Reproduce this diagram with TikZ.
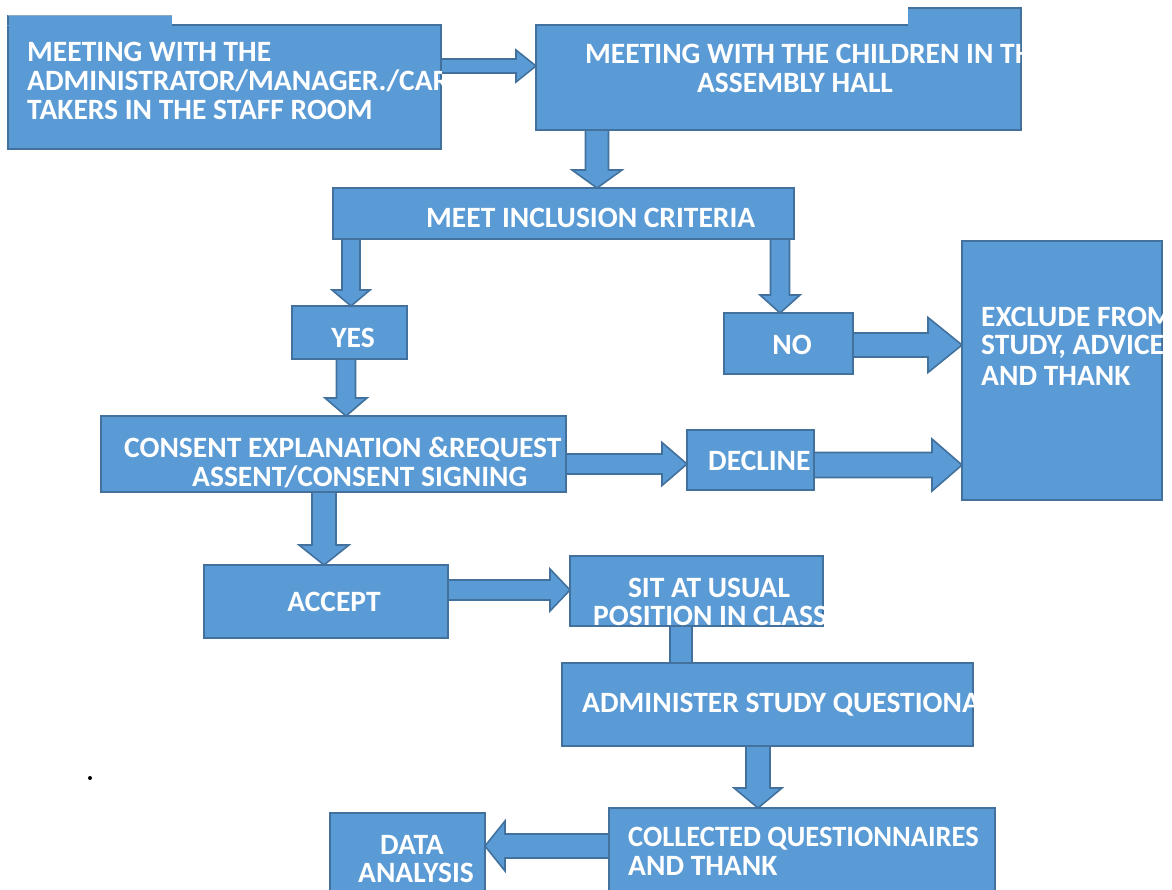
\documentclass[tikz,border=0pt]{standalone}
\usepackage{fontspec}
\setmainfont{Carlito}
\usetikzlibrary{calc}
\definecolor{blu}{HTML}{5B9BD5}
\definecolor{bord}{HTML}{41719C}
\newcommand\barrow[5]{%
 \draw[barr] let \p1=#1, \p2=#2, \n1={atan2(\y2-\y1,\x2-\x1)}, \n2={veclen(\x2-\x1,\y2-\y1)-#5}, \n3={#4-#3} in
 ($(\p1)+(\n1+90:#3)$) -- ++(\n1:\n2) -- ++(\n1+90:\n3) -- (\p2) -- ($(\p1)+(\n1:\n2)+(\n1-90:#4)$) -- ++(\n1+90:\n3) -- ++(\n1+180:\n2) -- cycle;}
\tikzset{
 box/.style={draw=bord, fill=blu, line width=1.6pt, rectangle, inner sep=0pt, outer sep=0pt, anchor=north west},
 barr/.style={draw=bord, fill=blu, line width=1.6pt, line join=miter},
 txt/.style={font=\fontsize{29.5}{29}\selectfont\bfseries, text=white, inner sep=0pt, anchor=base west},
 cent/.style={txt, anchor=base},
}
\begin{document}
\begin{tikzpicture}[x=1pt,y=1pt]
\useasboundingbox (0,0) rectangle (1172,-890);
\clip (0,0) rectangle (1172,-890);
% boxes
\node[box, minimum width=433, minimum height=124] (A) at (8,-25) {};
\fill[blu] (7.2,-15) rectangle (172,-25.8);
\draw[bord, line width=1.6pt] (8,-25) -- (8,-15);
\draw[bord!60, line width=0.6pt] (8,-15) -- (172,-15);
\node[box, minimum width=485, minimum height=105] (B) at (536,-25) {};
\fill[blu] (908,-8) rectangle (1020.2,-25.8);
\draw[bord, line width=1.6pt] (908,-8) -- (1021,-8) -- (1021,-25.8);
\node[box, minimum width=461, minimum height=51] (C) at (333,-188) {};
\node[box, minimum width=115, minimum height=53] (Y) at (292,-306) {};
\node[box, minimum width=129, minimum height=61] (N) at (724,-313) {};
\node[box, minimum width=200, minimum height=259] (E) at (962,-241) {};
\node[box, minimum width=465, minimum height=76] (K) at (101,-416) {};
\node[box, minimum width=127, minimum height=60] (D) at (687,-430) {};
\node[box, minimum width=244, minimum height=73] (AC) at (204,-565) {};
\node[box, minimum width=253, minimum height=70] (S) at (570,-556) {};
\node[box, minimum width=411, minimum height=83] (M) at (562,-663) {};
\node[box, minimum width=386, minimum height=90] (Q) at (609,-808) {};
\node[box, minimum width=155, minimum height=85] (DA) at (330,-813) {};
% connectors
\barrow{(A.east |- 0,-66)}{(B.west |- 0,-66)}{7}{16}{20}
\barrow{(B.south -| 597,0)}{(C.north -| 597,0)}{11.5}{25}{18}
\barrow{(C.south -| 351,0)}{(Y.north -| 351,0)}{9}{19}{16}
\barrow{(C.south -| 780,0)}{(N.north -| 780,0)}{9.5}{20}{18}
\barrow{(N.east |- 0,-345)}{(E.west |- 0,-345)}{12}{27.5}{34}
\barrow{(Y.south -| 346,0)}{(K.north -| 346,0)}{9.5}{21}{18}
\barrow{(K.east |- 0,-464)}{(D.west |- 0,-464)}{10}{21.5}{25}
\barrow{(D.east |- 0,-465)}{(E.west |- 0,-465)}{12.5}{26}{30}
\barrow{(K.south -| 324,0)}{(AC.north -| 324,0)}{12}{25}{20}
\barrow{(AC.east |- 0,-590)}{(S.west |- 0,-590)}{10}{21}{20}
\draw[barr] (S.south -| 670,0) rectangle (M.north -| 692,0);
\barrow{(M.south -| 758,0)}{(Q.north -| 758,0)}{12}{24}{20}
\barrow{(Q.west |- 0,-846)}{(DA.east |- 0,-846)}{12}{25}{20}
% texts
\begin{scope}
\clip (A.south west) rectangle (A.north east);
\node[txt] (a1) at (27,-61.5) {MEETING WITH THE};
\node[txt] (a2) at (27,-90.5) {ADMINISTRATOR/MANAGER./CARE};
\node[txt] (a3) at (27,-119.5) {TAKERS IN THE STAFF ROOM};
\end{scope}
\begin{scope}
\clip (B.south west) rectangle (B.north east);
\node[txt] (b1) at (585,-63.5) {MEETING WITH THE CHILDREN IN THE};
\node[cent] (b2) at (795,-92.5) {ASSEMBLY HALL};
\end{scope}
\node[txt] (c1) at (426,-227.5) {MEET INCLUSION CRITERIA};
\node[cent] (y1) at (353,-347.5) {YES};
\node[cent] (n1) at (792,-354.5) {NO};
\begin{scope}
\clip (E.south west) rectangle (E.north east);
\node[txt] (e1) at (981,-326.5) {EXCLUDE FROM};
\node[txt] (e2) at (981,-355) {STUDY, ADVICE};
\node[txt] (e3) at (981,-385) {AND THANK};
\end{scope}
\node[txt] (k1) at (124,-457.5) {CONSENT EXPLANATION \&REQUEST};
\node[txt] (k2) at (192,-486.5) {ASSENT/CONSENT SIGNING};
\node[txt] (d1) at (708,-470.5) {DECLINE};
\node[cent] (ac1) at (334,-611.5) {ACCEPT};
\node[cent] (s1) at (709,-597.5) {SIT AT USUAL};
\node[txt] (s2) at (593,-625.5) {POSITION IN CLASS};
\begin{scope}
\clip (M.south west) rectangle (M.north east);
\node[txt] (m1) at (582,-712.5) {ADMINISTER STUDY QUESTIONAIRE};
\end{scope}
\node[txt, transform shape, xscale=0.965] (q1) at (628,-846.5) {COLLECTED QUESTIONNAIRES};
\node[txt] (q2) at (628,-875.5) {AND THANK};
\node[cent] (da1) at (412,-854.5) {DATA};
\node[cent] (da2) at (416,-882.5) {ANALYSIS};
\node[circle, fill=black, inner sep=0pt, minimum size=4] (dot) at (90,-778) {};
\end{tikzpicture}
\end{document}
